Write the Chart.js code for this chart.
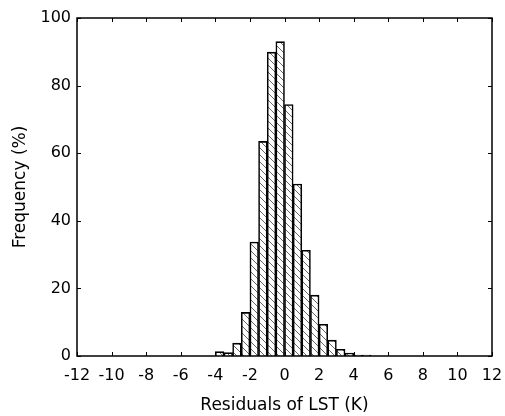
<!DOCTYPE html>
<html>
<head>
<meta charset="utf-8">
<script src="https://cdn.jsdelivr.net/npm/chart.js@4"></script>
<style>
html,body{margin:0;padding:0;background:#fff;}
#wrap{width:505px;height:416px;}
</style>
</head>
<body>
<div id="wrap"><canvas id="c" width="505" height="416"></canvas></div>
<script>
// Histogram of LST residuals (bin width 0.5 K)
const binCenters = [-3.75, -3.25, -2.75, -2.25, -1.75, -1.25, -0.75, -0.25, 0.25, 0.75, 1.25, 1.75, 2.25, 2.75, 3.25, 3.75, 4.25, 4.75];
const frequency  = [1.3, 1.0, 3.8, 12.9, 33.7, 63.5, 89.9, 93.0, 74.4, 50.9, 31.3, 18.0, 9.4, 4.7, 2.0, 0.9, 0.3, 0.3];
const xTicks = [-12, -10, -8, -6, -4, -2, 0, 2, 4, 6, 8, 10, 12];
const yTicks = [0, 20, 40, 60, 80, 100];

function hatch() {
  const s = 7;
  const p = document.createElement('canvas');
  p.width = s; p.height = s;
  const g = p.getContext('2d');
  g.fillStyle = '#fff';
  g.fillRect(0, 0, s, s);
  g.strokeStyle = '#666';
  g.lineWidth = 1;
  g.beginPath();
  g.moveTo(0, 0); g.lineTo(s, s);
  g.moveTo(-1, s - 1); g.lineTo(1, s + 1);
  g.moveTo(s - 1, -1); g.lineTo(s + 1, 1);
  g.stroke();
  return g.createPattern(p, 'repeat');
}

const frame = {
  id: 'frame',
  afterDraw(chart) {
    const {ctx, chartArea: a, scales: {x, y}} = chart;
    ctx.save();
    ctx.strokeStyle = '#000';
    ctx.lineWidth = 1.5;
    ctx.strokeRect(a.left, a.top, a.right - a.left, a.bottom - a.top);
    ctx.lineWidth = 1;
    const L = 4;
    ctx.beginPath();
    xTicks.forEach(v => {
      const px = Math.round(x.getPixelForValue(v)) + 0.5;
      ctx.moveTo(px, a.bottom); ctx.lineTo(px, a.bottom - L);
      ctx.moveTo(px, a.top); ctx.lineTo(px, a.top + L);
    });
    yTicks.forEach(v => {
      const py = Math.round(y.getPixelForValue(v)) + 0.5;
      ctx.moveTo(a.left, py); ctx.lineTo(a.left + L, py);
      ctx.moveTo(a.right, py); ctx.lineTo(a.right - L, py);
    });
    ctx.stroke();
    ctx.restore();
  }
};

const fam = '"DejaVu Sans", "Liberation Sans", Arial, sans-serif';
const tickFont = {family: fam, size: 16};
const titleFont = {family: fam, size: 17};

new Chart(document.getElementById('c'), {
  type: 'bar',
  data: {
    datasets: [{
      data: binCenters.map((c, i) => ({x: c, y: frequency[i]})),
      backgroundColor: hatch(),
      borderColor: '#000',
      borderWidth: 1.6,
      barPercentage: 1,
      categoryPercentage: 1
    }]
  },
  options: {
    responsive: false,
    animation: false,
    layout: {padding: {top: 18, right: 13, left: 6, bottom: 0}},
    plugins: {legend: {display: false}, tooltip: {enabled: false}},
    scales: {
      x: {
        type: 'linear', min: -12, max: 12, offset: false,
        grid: {display: false, drawTicks: false},
        border: {display: false},
        afterBuildTicks: s => { s.ticks = xTicks.map(v => ({value: v})); },
        afterFit: s => { s.height = 60; s.paddingLeft = 0; s.paddingRight = 0; },
        ticks: {color: '#000', font: tickFont, padding: 10, maxRotation: 0, autoSkip: false},
        title: {display: true, text: 'Residuals of LST (K)', color: '#000', font: titleFont, padding: {top: 15, bottom: 0}}
      },
      y: {
        min: 0, max: 100,
        grid: {display: false, drawTicks: false},
        border: {display: false},
        afterBuildTicks: s => { s.ticks = yTicks.map(v => ({value: v})); },
        afterFit: s => { s.width = 71; s.paddingTop = 0; s.paddingBottom = 0; },
        ticks: {color: '#000', font: tickFont, padding: 6},
        title: {display: true, text: 'Frequency (%)', color: '#000', font: titleFont, padding: {bottom: 4}}
      }
    }
  },
  plugins: [frame]
});
</script>
</body>
</html>
